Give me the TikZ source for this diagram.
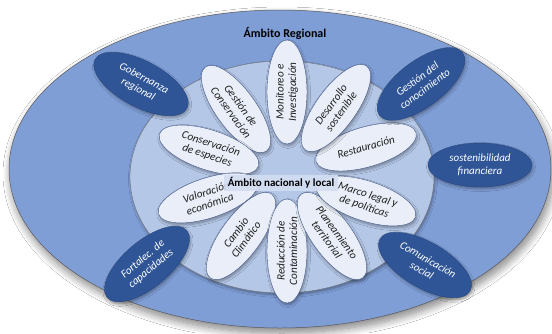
\documentclass[tikz,border=0pt]{standalone}
\usepackage{fontspec}
\setmainfont{Carlito}
\usetikzlibrary{shapes.geometric,shadows.blur}
\definecolor{outerblue}{HTML}{809ED6}
\definecolor{midblue}{HTML}{B4C7E7}
\definecolor{darkblue}{HTML}{2F5597}
\definecolor{petalfill}{HTML}{E9EEF8}
\definecolor{petalline}{HTML}{44598A}
\definecolor{labelfill}{HTML}{D3DEF1}
\begin{document}
\begin{tikzpicture}[x=1pt,y=-1pt,
  bigshadow/.style={blur shadow={shadow xshift=2pt, shadow yshift=-5pt, shadow blur radius=8pt, shadow blur steps=12, shadow opacity=50}},
  smallshadow/.style={blur shadow={shadow xshift=1pt, shadow yshift=-2pt, shadow blur radius=2.5pt, shadow blur steps=6, shadow opacity=35}},
  outerel/.style={ellipse, draw=black!65, line width=0.5pt, fill=outerblue, minimum width=542pt, minimum height=318pt, inner sep=0pt, bigshadow},
  midel/.style={ellipse, draw=black!55, line width=0.4pt, fill=midblue, minimum width=304pt, minimum height=232pt, inner sep=0pt, smallshadow},
  petal/.style={ellipse, draw=petalline, line width=0.4pt, fill=petalfill, minimum width=104pt, minimum height=40pt, inner sep=0pt, align=center, font=\fontsize{11.2}{12.3}\selectfont\itshape, text=black!88, smallshadow},
  darkel/.style={ellipse, draw=darkblue!85!black, line width=0.4pt, fill=darkblue, minimum width=104pt, minimum height=46pt, inner sep=0pt, align=center, font=\fontsize{11}{12.5}\selectfont\itshape, text=white, smallshadow},
  titletext/.style={font=\fontsize{12}{14}\selectfont\bfseries, text=black},
  centerlabel/.style={fill=labelfill, fill opacity=0.9, text opacity=1, font=\fontsize{11}{13}\selectfont\bfseries, text=black, inner xsep=4pt, inner ysep=0pt, minimum height=16pt}
]
\useasboundingbox (0,0) rectangle (552,333);
\fill[white] (0,0) rectangle (552,333);

\node[outerel] (outer) at (280,169) {};
\node[midel] (mid) at (282,177) {};

\node[titletext] (regional) at (285,33) {Ámbito Regional};

% petals
\node[petal, rotate=90]  (monitoreo) at (287,92)  {Monitoreo e\\Investigación};
\node[petal, rotate=-54] (gestion)   at (236,109) {Gestión de\\Conservación};
\node[petal, rotate=-18] (especies)  at (209,150) {Conservación\\de especies};
\node[petal, rotate=18]  (valoracion) at (208,198) {Valoración\\económica};
\node[petal, rotate=54]  (cambio)    at (241,236) {Cambio\\Climático};
\node[petal, rotate=90]  (reduccion) at (287,251) {Reducción de\\Contaminación};
\node[petal, rotate=-54] (planea)    at (332,236) {Planeamiento\\territorial};
\node[petal, rotate=-18] (marco)     at (366,201) {Marco legal y\\de políticas};
\node[petal, rotate=16]  (restaura)  at (366,147) {Restauración};
\node[petal, rotate=54]  (desarrollo) at (336,108) {Desarrollo\\sostenible};

\node[centerlabel] (nacional) at (281,183) {Ámbito nacional y local};

% dark ellipses
\node[darkel, rotate=-28] (gobernanza) at (141,84)  {Gobernanza\\regional};
\node[darkel, rotate=37]  (conocim)    at (421,84)  {Gestión del\\conocimiento};
\node[darkel, minimum height=44pt] (financ) at (480,165) {sostenibilidad\\financiera};
\node[darkel, rotate=-30] (comunic)    at (425,265) {Comunicación\\social};
\node[darkel, rotate=40]  (fortalec)   at (147,264) {Fortalec. de\\capacidades};
\end{tikzpicture}
\end{document}
